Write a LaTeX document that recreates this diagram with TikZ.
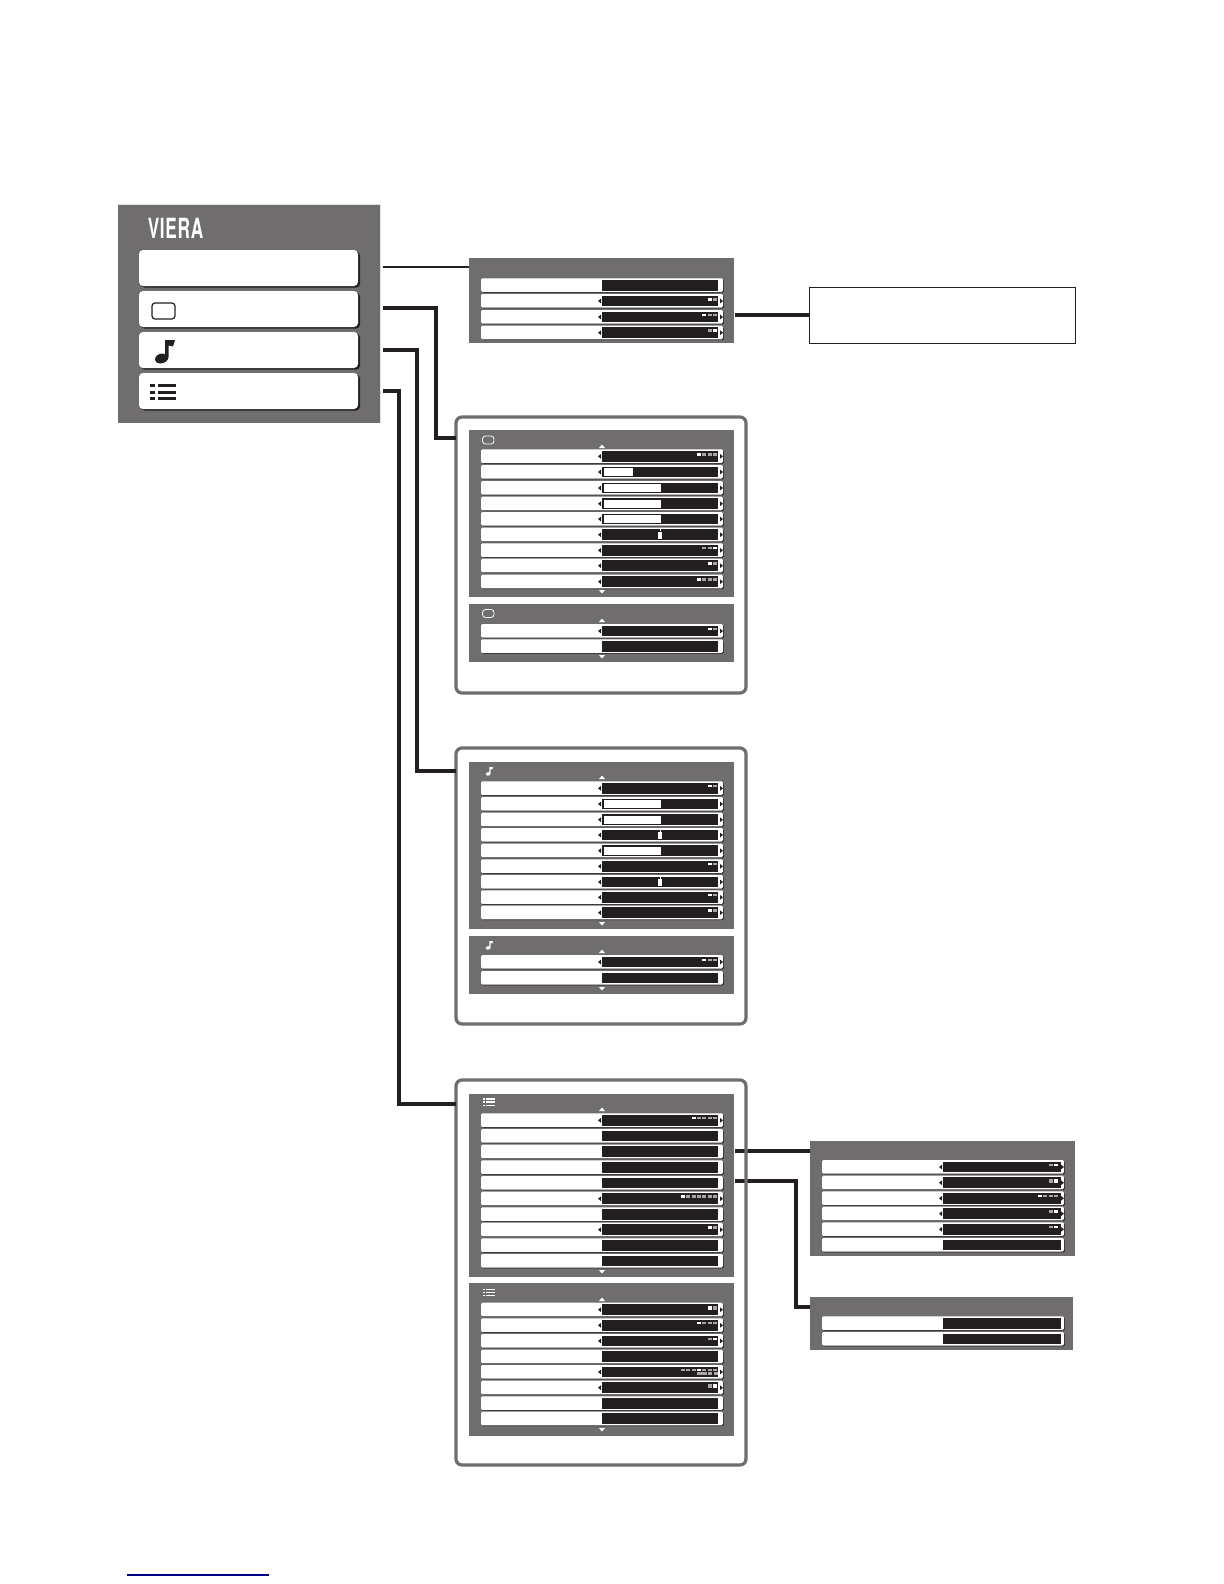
\documentclass[tikz,border=0pt]{standalone}
\usepackage{fontspec}
\usepackage{tikz}
\newfontfamily\vierafont[LetterSpace=4]{TeX Gyre Heros}
\definecolor{pcFFFFFF}{HTML}{FFFFFF}
\definecolor{pc6F6D6E}{HTML}{6F6D6E}
\definecolor{pc231F20}{HTML}{231F20}
\definecolor{pcA7A5A6}{HTML}{A7A5A6}
\definecolor{pcE2E1E1}{HTML}{E2E1E1}
\definecolor{pc00008B}{HTML}{00008B}
\tikzset{
  panelbox/.style={fill=pc6F6D6E, inner sep=0, outer sep=0, anchor=north west},
  framebox/.style={draw=pc6F6D6E, line width=1.6bp, rounded corners=3bp, inner sep=0, outer sep=0, anchor=north west},
  notebox/.style={draw=pc231F20, line width=0.5bp, fill=pcFFFFFF, inner sep=0, outer sep=0, anchor=north west},
  wire/.style={draw=pc231F20, line width=1.7bp},
  thinwire/.style={draw=pc231F20, line width=1.35bp},
  buttonbox/.style={fill=pcFFFFFF, rounded corners=2bp, inner sep=0, outer sep=0, anchor=north west},
  buttonshade/.style={fill=pc231F20, rounded corners=2bp}
}
% box nodes, corners given in page pixels
\newcommand{\boxnode}[6]{\node[#1, minimum width={(#5-#3)*0.5bp}, minimum height={(#6-#4)*0.5bp}] (#2) at (#3,#4) {};}
\newcommand{\menubutton}[3]{%
\fill[buttonshade] (139+2,#2+1.6) rectangle (358+2,#3+1.6);
\boxnode{buttonbox}{#1}{139}{#2}{358}{#3}}
% one row: left edge, top edge
\def\barwidth{116}
\newcommand{\menurow}[2]{%
\fill[pc231F20, rounded corners=0.7bp] (#1+0.8,#2+0.8) rectangle ++(242,13.6);
\fill[pcFFFFFF, rounded corners=0.7bp] (#1,#2) rectangle ++(242,13.6);
\fill[pc231F20] (#1+121,#2+1.6) rectangle ++(\barwidth,10.8);}
\newcommand{\rowarrows}[2]{%
\fill[pc231F20] (#1+117,#2+7) -- ++(3,-2.4) -- ++(0,4.8) -- cycle;
\fill[pc231F20] (#1+242,#2+7) -- ++(-3,-2.4) -- ++(0,4.8) -- cycle;}
% row, count, active one, mark height
\newcommand{\dotrow}[5]{%
\menurow{#1}{#2}\rowarrows{#1}{#2}\rowdots{#1}{#2+3.6}{#3}{#4}{#5+0.2}}
\newcommand{\rowdots}[5]{%
\foreach \d in {1,...,#3} {
  \ifnum\d=#4 \def\dotcolor{pcFFFFFF}\else\def\dotcolor{pcA7A5A6}\fi
  \fill[\dotcolor] ({#1+236-(#3-\d)*5.33-4},#2) rectangle ++(4,#5);
}}
\newcommand{\barrow}[3]{%
\menurow{#1}{#2}\rowarrows{#1}{#2}
\fill[pcFFFFFF] (#1+123,#2+3.2) rectangle ++(#3,8);}
\newcommand{\markrow}[2]{%
\menurow{#1}{#2}\rowarrows{#1}{#2}
\fill[pcFFFFFF] (#1+177,#2+4.4) rectangle ++(4,6.8);
\fill[pcFFFFFF] (#1+178.6,#2+1.6) rectangle ++(0.8,2);}
\newcommand{\uptip}[2]{\fill[pcFFFFFF] (#1-3,#2+2) -- (#1,#2-1.5) -- (#1+3,#2+2) -- cycle;}
\newcommand{\downtip}[2]{\fill[pcFFFFFF] (#1-3,#2-2) -- (#1,#2+1.5) -- (#1+3,#2-2) -- cycle;}
% icons, origin at top left: x, y, scale, colour
\newcommand{\screenicon}[4]{%
\draw[#4, line width={0.2bp+#3*0.4bp}, rounded corners=1.5bp] (#1,#2) rectangle ++(#3*23,#3*16);}
\newcommand{\noteicon}[4]{%
\begin{scope}[shift={(#1,#2)}, scale=#3]
\fill[#4] (10,1) -- (20,1) -- (18,7.5) -- (13.5,6.5) -- (13.5,18) .. controls (13.5,22) and (9,24.5) .. (5,24.5) .. controls (2,24.5) and (0,23) .. (0,20.5) .. controls (0,17) and (4,14.5) .. (7,14.5) .. controls (8.5,14.5) and (9.5,15) .. (10,15.5) -- cycle;
\end{scope}}
% last one: height of the bars
\newcommand{\listicon}[5]{%
\begin{scope}[shift={(#1,#2)}, scale=#3]
\foreach \r in {0,6.5,13} {
  \fill[#4] (0,\r) rectangle ++(5,#5);
  \fill[#4] (7.5,\r) rectangle ++(18.5,#5);
}
\end{scope}}

\begin{document}
\begin{tikzpicture}[x=0.5bp, y=-0.5bp]
\path[use as bounding box] (0,0) rectangle (1224,1584);
\path[fill=pcFFFFFF] (0,0) rectangle (1224,1584);

% main menu
\draw[pcE2E1E1, line width=0.8bp] (118,205) -- (380,205) -- (380,423);
\boxnode{panelbox}{mainmenu}{118}{205}{380}{423}
\node[inner sep=0, text=pcFFFFFF, transform shape, xscale=0.62] (vieralogo) at (175.5,228.5) {\vierafont\bfseries\fontsize{13.9bp}{14bp}\selectfont VIERA};
\menubutton{btnsetup}{250}{286}
\menubutton{btnpicture}{291}{327}
\menubutton{btnsound}{332}{368}
\menubutton{btnlist}{373}{409}
\screenicon{152}{303}{1}{pc231F20}
\noteicon{155}{339}{1}{pc231F20}
\listicon{150}{384}{1}{pc231F20}{3}

% setup panel
\boxnode{panelbox}{setuppanel}{469}{258}{734}{343}
\menurow{481}{278.3}
\dotrow{481}{294}{2}{1}{3}
\dotrow{481}{310}{3}{1}{2}
\dotrow{481}{325.7}{2}{2}{2}
\boxnode{notebox}{setupnote}{809}{287}{1075}{343}

% picture menu
\boxnode{framebox}{pictureframe}{456}{417}{746}{693}
\boxnode{panelbox}{picturea}{469}{430}{734}{597}
\screenicon{482.5}{436}{0.5}{pcFFFFFF}
\uptip{602}{446}
\dotrow{481}{449.3}{4}{1}{2.6}
\barrow{481}{465}{29}
\barrow{481}{481}{57}
\barrow{481}{496.7}{57}
\barrow{481}{512}{57}
\markrow{481}{527.7}
\dotrow{481}{543.3}{3}{3}{2}
\dotrow{481}{558.7}{2}{1}{2}
\dotrow{481}{574.7}{4}{1}{2}
\downtip{602}{592}
\boxnode{panelbox}{pictureb}{469}{604}{734}{662}
\screenicon{482.5}{609.5}{0.5}{pcFFFFFF}
\uptip{602}{620}
\dotrow{481}{624}{2}{1}{2}
\menurow{481}{639.3}
\downtip{602}{657}

% sound menu
\boxnode{framebox}{soundframe}{456}{748}{746}{1024}
\boxnode{panelbox}{sounda}{469}{762}{734}{929}
\noteicon{485.7}{766.7}{0.37}{pcFFFFFF}
\uptip{602}{777}
\dotrow{481}{781.3}{2}{1}{2}
\barrow{481}{797}{57}
\barrow{481}{812.7}{57}
\markrow{481}{828}
\barrow{481}{843.7}{57}
\dotrow{481}{859.3}{2}{1}{2}
\markrow{481}{875}
\dotrow{481}{890.3}{2}{1}{2}
\dotrow{481}{905.7}{2}{1}{2}
\downtip{602}{924}
\boxnode{panelbox}{soundb}{469}{936}{734}{994}
\noteicon{485.7}{940.7}{0.37}{pcFFFFFF}
\uptip{602}{951}
\dotrow{481}{955}{3}{1}{2}
\menurow{481}{971}
\downtip{602}{989}

% side panels of the list menu
\def\barwidth{117.5}
\boxnode{panelbox}{listsidea}{810}{1141}{1075}{1256}
\dotrow{822}{1160}{2}{2}{2}
\dotrow{822}{1175.7}{2}{2}{3}
\dotrow{822}{1191.3}{4}{1}{2}
\dotrow{822}{1206.7}{2}{2}{2}
\dotrow{822}{1222.3}{2}{2}{2}
\menurow{822}{1238}
\boxnode{panelbox}{listsideb}{810}{1297}{1073}{1350}
\menurow{822}{1316.3}
\menurow{822}{1332}
\def\barwidth{116}

% connectors that the list frame covers
\coordinate (startsidea) at (735,1151);
\coordinate (startsideb) at (735,1181);
\coordinate (bendsideb) at (796,1307);
\draw[wire] (startsidea) -- (startsidea -| listsidea.west);
\draw[wire] (startsideb) -| (bendsideb) -- (bendsideb -| listsideb.west);

% list menu
\boxnode{framebox}{listframe}{456}{1080}{746}{1465}
\boxnode{panelbox}{lista}{469}{1094}{734}{1277}
\listicon{482.7}{1098.3}{0.48}{pcFFFFFF}{3.4}
\uptip{602}{1109}
\dotrow{481}{1113.3}{5}{1}{2}
\menurow{481}{1129}
\menurow{481}{1144.7}
\menurow{481}{1160.3}
\menurow{481}{1176}
\dotrow{481}{1191.7}{7}{1}{2}
\menurow{481}{1207.3}
\dotrow{481}{1222.7}{2}{1}{2}
\menurow{481}{1238.3}
\menurow{481}{1254}
\downtip{602}{1272}
\boxnode{panelbox}{listb}{469}{1283}{734}{1436}
\listicon{482.7}{1289}{0.48}{pcFFFFFF}{1.8}
\uptip{602}{1299}
\dotrow{481}{1302.7}{2}{1}{3}
\dotrow{481}{1318.3}{4}{1}{2}
\dotrow{481}{1334}{2}{2}{2}
\menurow{481}{1349.7}
\dotrow{481}{1365}{7}{4}{2}
\fill[pcA7A5A6] (697,1372) rectangle ++(10,3);
\fill[pcA7A5A6] (708.3,1372) rectangle ++(4,3);
\fill[pcA7A5A6] (713.6,1372) rectangle ++(4,3);
\dotrow{481}{1380.7}{2}{2}{3}
\menurow{481}{1396.3}
\menurow{481}{1411.7}
\downtip{602}{1430}

% connectors
\coordinate (startsetup) at (383,267);
\coordinate (startpicture) at (383,308);
\coordinate (startsound) at (383,350);
\coordinate (startlist) at (383,391);
\coordinate (bendpicture) at (436,438);
\coordinate (bendsound) at (417,771);
\coordinate (bendlist) at (399,1104);
\coordinate (startnote) at (735,315);
\draw[thinwire] (startsetup) -- (startsetup -| setuppanel.west);
\draw[wire] (startpicture) -| (bendpicture) -- (bendpicture -| pictureframe.west);
\draw[wire] (startsound) -| (bendsound) -- (bendsound -| soundframe.west);
\draw[wire] (startlist) -| (bendlist) -- (bendlist -| listframe.west);
\draw[wire] (startnote) -- (startnote -| setupnote.west);

% foot rule
\draw[line width=0.8bp, color=pc00008B] (127,1575) -- (269,1575);
\end{tikzpicture}
\end{document}
